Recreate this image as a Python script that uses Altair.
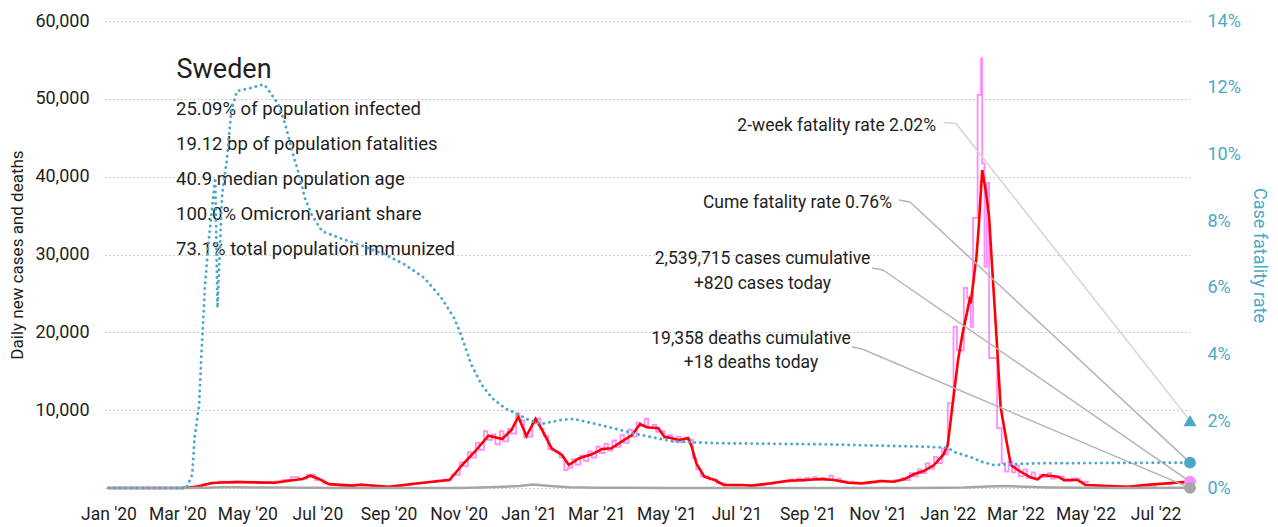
import altair as alt
import pandas as pd

# ---------------- data ----------------
red_dates = ["2020-01-01", "2020-03-05", "2020-03-18", "2020-03-31", "2020-04-20", "2020-05-25",
             "2020-06-06", "2020-06-18", "2020-06-25", "2020-07-02", "2020-07-11", "2020-07-31",
             "2020-08-09", "2020-09-01", "2020-09-27", "2020-10-15", "2020-10-24", "2020-11-04",
             "2020-11-15", "2020-11-27", "2020-12-09", "2020-12-17", "2020-12-23", "2020-12-30",
             "2021-01-07", "2021-01-12", "2021-01-21", "2021-01-30", "2021-02-05", "2021-02-14",
             "2021-02-25", "2021-03-06", "2021-03-14", "2021-03-23", "2021-04-01", "2021-04-08",
             "2021-04-14", "2021-04-24", "2021-04-29", "2021-05-12", "2021-05-20", "2021-05-23",
             "2021-05-27", "2021-06-03", "2021-06-12", "2021-06-20", "2021-07-05", "2021-07-14",
             "2021-07-31", "2021-08-15", "2021-08-29", "2021-09-13", "2021-09-24", "2021-10-06",
             "2021-10-18", "2021-11-04", "2021-11-15", "2021-11-24", "2021-12-03", "2021-12-11",
             "2021-12-20", "2021-12-28", "2022-01-01", "2022-01-05", "2022-01-10", "2022-01-14",
             "2022-01-20", "2022-01-21", "2022-01-26", "2022-01-28", "2022-01-31", "2022-02-03",
             "2022-02-06", "2022-02-09", "2022-02-13", "2022-02-16", "2022-02-21", "2022-02-25",
             "2022-03-03", "2022-03-14", "2022-03-20", "2022-03-25", "2022-04-07", "2022-04-12",
             "2022-04-24", "2022-05-01", "2022-06-07", "2022-06-21", "2022-07-31"]
red_cases = [0, 0, 150, 640, 770, 680,
             940, 1150, 1580, 1200, 500, 300,
             420, 170, 600, 900, 1030, 2950,
             4660, 6720, 6300, 7450, 9160, 6680,
             8870, 7670, 5100, 4240, 2950, 3820,
             4330, 5010, 5100, 5950, 6810, 8220,
             7800, 7670, 6600, 6170, 6390, 5300,
             3170, 1450, 1030, 390, 390, 300,
             600, 940, 1030, 1160, 1030, 680,
             600, 900, 810, 1120, 1800, 2180,
             2950, 4240, 5530, 10450, 16450, 19900,
             24160, 23730, 29720, 33580, 40860, 38290,
             34860, 27590, 18160, 10450, 6170, 2950,
             2310, 1370, 1120, 1670, 1450, 1030,
             1030, 390, 170, 390, 820]

pink_dates = ["2020-01-01", "2020-03-02", "2020-03-09", "2020-03-16", "2020-03-23", "2020-03-30",
              "2020-04-06", "2020-04-13", "2020-04-20", "2020-04-27", "2020-05-04", "2020-05-11",
              "2020-05-18", "2020-05-25", "2020-06-01", "2020-06-08", "2020-06-15", "2020-06-22",
              "2020-06-29", "2020-07-06", "2020-07-13", "2020-07-20", "2020-07-27", "2020-08-03",
              "2020-08-10", "2020-08-17", "2020-08-24", "2020-08-31", "2020-09-07", "2020-09-14",
              "2020-09-21", "2020-09-28", "2020-10-05", "2020-10-12", "2020-10-19", "2020-10-26",
              "2020-11-02", "2020-11-05", "2020-11-09", "2020-11-12", "2020-11-16", "2020-11-19",
              "2020-11-23", "2020-11-26", "2020-11-30", "2020-12-03", "2020-12-07", "2020-12-10",
              "2020-12-14", "2020-12-17", "2020-12-21", "2020-12-24", "2020-12-28", "2020-12-31",
              "2021-01-04", "2021-01-07", "2021-01-11", "2021-01-14", "2021-01-18", "2021-01-21",
              "2021-01-25", "2021-01-28", "2021-02-01", "2021-02-04", "2021-02-08", "2021-02-11",
              "2021-02-15", "2021-02-18", "2021-02-22", "2021-02-25", "2021-03-01", "2021-03-04",
              "2021-03-08", "2021-03-11", "2021-03-15", "2021-03-18", "2021-03-22", "2021-03-25",
              "2021-03-29", "2021-04-01", "2021-04-05", "2021-04-08", "2021-04-12", "2021-04-15",
              "2021-04-19", "2021-04-22", "2021-04-26", "2021-04-29", "2021-05-03", "2021-05-06",
              "2021-05-10", "2021-05-13", "2021-05-17", "2021-05-20", "2021-05-24", "2021-05-27",
              "2021-05-31", "2021-06-07", "2021-06-14", "2021-06-21", "2021-06-28", "2021-07-05",
              "2021-07-12", "2021-07-19", "2021-07-26", "2021-08-02", "2021-08-09", "2021-08-16",
              "2021-08-19", "2021-08-23", "2021-08-26", "2021-08-30", "2021-09-02", "2021-09-06",
              "2021-09-09", "2021-09-13", "2021-09-16", "2021-09-20", "2021-09-23", "2021-09-27",
              "2021-09-30", "2021-10-04", "2021-10-11", "2021-10-18", "2021-10-25", "2021-11-01",
              "2021-11-08", "2021-11-15", "2021-11-22", "2021-11-25", "2021-11-29", "2021-12-02",
              "2021-12-06", "2021-12-09", "2021-12-13", "2021-12-16", "2021-12-20", "2021-12-23",
              "2021-12-27", "2021-12-30", "2022-01-01", "2022-01-06", "2022-01-09", "2022-01-15",
              "2022-01-18", "2022-01-21", "2022-01-23", "2022-01-27", "2022-01-30", "2022-01-31",
              "2022-02-02", "2022-02-04", "2022-02-06", "2022-02-13", "2022-02-17", "2022-02-20",
              "2022-02-23", "2022-02-26", "2022-03-01", "2022-03-04", "2022-03-08", "2022-03-11",
              "2022-03-15", "2022-03-18", "2022-03-22", "2022-03-25", "2022-03-29", "2022-04-01",
              "2022-04-05", "2022-04-12", "2022-04-19", "2022-04-26", "2022-05-03", "2022-05-10",
              "2022-05-17", "2022-06-01", "2022-06-15", "2022-07-01", "2022-07-15", "2022-07-31"]
pink_cases = [0, 20, 120, 300, 500, 650,
              820, 650, 850, 700, 780, 620,
              750, 850, 1050, 1400, 1200, 1700,
              1000, 600, 380, 280, 350, 450,
              350, 250, 200, 160, 250, 380,
              550, 650, 750, 950, 1100, 1700,
              3300, 2800, 4600, 3900, 5800, 4900,
              7300, 6200, 6900, 5600, 7300, 6000,
              7600, 7000, 9600, 8700, 6500, 6600,
              8300, 8900, 7600, 6700, 5000, 4800,
              4600, 3900, 2300, 2600, 3700, 3000,
              4200, 3500, 4700, 3900, 5300, 4500,
              5700, 4800, 6100, 5300, 6800, 5800,
              7500, 6600, 8400, 8000, 8900, 7700,
              8100, 7200, 7300, 6400, 6800, 6000,
              6600, 5900, 6500, 6200, 3800, 2400,
              1500, 1100, 600, 350, 300, 400,
              280, 350, 500, 700, 800, 1100,
              850, 1200, 900, 1300, 1000, 1400,
              1050, 1300, 1000, 1600, 1000, 1200,
              900, 800, 650, 600, 700, 950,
              850, 1000, 1300, 1000, 1900, 1500,
              2400, 1900, 3200, 2500, 4000, 3200,
              5100, 4300, 10900, 20700, 17700, 25700,
              24400, 20700, 34700, 50500, 55200, 41700,
              28400, 39200, 16700, 7700, 3200, 2100,
              3400, 2000, 2900, 1500, 2400, 1300,
              2000, 1100, 1700, 1400, 1900, 1200,
              1500, 900, 1200, 800, 400, 300,
              250, 200, 250, 500, 650, 820]

death_dates = ["2020-01-01", "2020-03-10", "2020-03-25", "2020-04-08", "2020-04-22", "2020-05-06",
               "2020-05-20", "2020-06-03", "2020-06-17", "2020-07-01", "2020-07-15", "2020-08-01",
               "2020-10-01", "2020-11-01", "2020-11-20", "2020-12-10", "2020-12-24", "2021-01-05",
               "2021-01-12", "2021-01-20", "2021-02-05", "2021-03-01", "2021-04-01", "2021-05-01",
               "2021-06-01", "2021-12-01", "2022-01-15", "2022-02-05", "2022-02-20", "2022-03-10",
               "2022-04-01", "2022-05-01", "2022-06-01", "2022-07-31"]
deaths = [0, 0, 40, 100, 90, 80,
          60, 50, 40, 20, 10, 5,
          3, 10, 60, 150, 250, 450,
          350, 250, 100, 30, 20, 15,
          5, 5, 50, 200, 250, 150,
          80, 30, 15, 18]

cfr_dates = ["2020-01-01", "2020-03-09", "2020-03-14", "2020-03-16", "2020-03-20", "2020-03-22",
             "2020-03-25", "2020-03-28", "2020-03-31", "2020-04-03", "2020-04-05", "2020-04-09",
             "2020-04-13", "2020-04-17", "2020-04-22", "2020-05-05", "2020-05-15", "2020-05-18",
             "2020-05-28", "2020-06-03", "2020-06-09", "2020-06-15", "2020-06-20", "2020-06-26",
             "2020-07-05", "2020-07-20", "2020-08-06", "2020-08-29", "2020-09-15", "2020-10-02",
             "2020-10-17", "2020-10-28", "2020-11-03", "2020-11-12", "2020-11-21", "2020-11-30",
             "2020-12-11", "2020-12-23", "2021-01-01", "2021-01-12", "2021-01-29", "2021-02-09",
             "2021-02-26", "2021-03-16", "2021-04-02", "2021-04-20", "2021-05-08", "2021-06-18",
             "2021-09-13", "2021-12-09", "2022-01-01", "2022-01-06", "2022-01-15", "2022-01-24",
             "2022-01-30", "2022-02-10", "2022-02-28", "2022-03-25", "2022-07-31"]
cfr_pct = [0, 0, 0.4, 1.5, 2.5, 4.0,
           6.0, 7.3, 8.3, 9.3, 5.4, 8.8,
           9.8, 11.3, 11.9, 12.0, 12.1, 12.0,
           11.5, 10.9, 10.1, 9.4, 8.7, 8.2,
           7.7, 7.5, 7.3, 7.0, 6.7, 6.3,
           5.7, 5.1, 4.6, 3.7, 3.1, 2.7,
           2.4, 2.2, 2.04, 1.92, 2.04, 2.07,
           1.94, 1.79, 1.64, 1.51, 1.39, 1.34,
           1.31, 1.24, 1.21, 1.09, 0.99, 0.89,
           0.79, 0.69, 0.72, 0.74, 0.76]

country = "Sweden"
stat_lines = ["25.09% of population infected",
              "19.12 bp of population fatalities",
              "40.9 median population age",
              "100.0% Omicron variant share",
              "73.1% total population immunized"]

last_date = "2022-07-31"
cases_cumulative = 2539715
cases_today = 820
deaths_cumulative = 19358
deaths_today = 18
cume_fatality = 0.76
two_week_fatality = 2.02

tick_months = [(2020, 1), (2020, 3), (2020, 5), (2020, 7), (2020, 9), (2020, 11),
               (2021, 1), (2021, 3), (2021, 5), (2021, 7), (2021, 9), (2021, 11),
               (2022, 1), (2022, 3), (2022, 5), (2022, 7)]
case_ticks = [0, 10000, 20000, 30000, 40000, 50000, 60000]
pct_ticks = [0, 2, 4, 6, 8, 10, 12, 14]

# ---------------- styling ----------------
FONT = "Roboto"
TEAL = "#4aa9c6"
PINK = "#ff8cff"
RED = "#ff0000"
GRAY = "#a6a6a6"
INK = "#1e1e1e"
W, H = 1085, 467


def utc_ms(y, m, d=1):
    return int(pd.Timestamp(year=y, month=m, day=d, tz="UTC").value // 1_000_000)


cases_df = pd.DataFrame({"date": red_dates, "value": red_cases})
daily_df = pd.DataFrame({"date": pink_dates, "value": pink_cases})
deaths_df = pd.DataFrame({"date": death_dates, "value": deaths})
cfr_df = pd.DataFrame({"date": cfr_dates, "pct": cfr_pct})

x_enc = alt.X(
    "date:T",
    scale=alt.Scale(type="utc", domain=[utc_ms(2019, 12, 29), utc_ms(2022, 7, 31)]),
    axis=alt.Axis(values=[utc_ms(y, m) for y, m in tick_months],
                  labelExpr="utcFormat(datum.value, \"%b '%y\")",
                  labelFontSize=17.5, labelPadding=17, labelColor=INK, labelFont=FONT,
                  ticks=False, tickSize=0, domain=False, grid=False, title=None),
)

y_left = alt.Y(
    "value:Q",
    scale=alt.Scale(domain=[0, 60000]),
    axis=alt.Axis(values=case_ticks,
                  labelExpr="datum.value == 0 ? '' : format(datum.value, ',')",
                  grid=True, gridDash=[1.5, 2.5], gridColor="#bdbdbd", gridWidth=1,
                  ticks=False, tickSize=0, domain=False, labelPadding=16, labelFontSize=18,
                  labelColor=INK, labelFont=FONT, title="Daily new cases and deaths",
                  titleFont=FONT, titleFontSize=17, titleFontWeight="normal", titleColor=INK,
                  titleAngle=270, titleAlign="center", titleBaseline="middle",
                  titleX=-87.5, titleY=233.5),
)

y_right = alt.Y(
    "pct:Q",
    scale=alt.Scale(domain=[0, 14]),
    axis=alt.Axis(orient="right", values=pct_ticks, labelExpr="datum.value + '%'",
                  grid=False, ticks=False, tickSize=0, domain=False, labelPadding=17,
                  labelFontSize=18, labelColor=TEAL, labelFont=FONT,
                  title="Case fatality rate", titleFont=FONT, titleFontSize=18,
                  titleFontWeight="normal", titleColor=TEAL,
                  titleAngle=90, titleAlign="center", titleBaseline="middle",
                  titleX=68, titleY=234),
)

# ---- left-axis layers: cases and deaths ----
daily_line = alt.Chart(daily_df).mark_line(color=PINK, strokeWidth=1.8,
                                           interpolate="step-after").encode(x=x_enc, y=y_left)
avg_line = alt.Chart(cases_df).mark_line(color=RED, strokeWidth=2.6).encode(x=x_enc, y=y_left)
death_line = alt.Chart(deaths_df).mark_line(color=GRAY, strokeWidth=2.5).encode(x=x_enc, y=y_left)

end_left = pd.DataFrame({"date": [last_date, last_date],
                         "value": [cases_today, deaths_today],
                         "kind": ["cases", "deaths"]})
end_cases = end_left[end_left.kind == "cases"]
end_deaths = end_left[end_left.kind == "deaths"]

LEAD = "#b4b4b4"
leader_cases = alt.Chart(end_cases).mark_rule(color=LEAD, strokeWidth=1.5).encode(
    x=x_enc, y=y_left, x2=alt.value(778), y2=alt.value(249))
leader_cases_tab = alt.Chart(end_cases).mark_rule(color=LEAD, strokeWidth=1.5).encode(
    x=alt.value(767), x2=alt.value(778), y=alt.value(247), y2=alt.value(249))
leader_deaths = alt.Chart(end_deaths).mark_rule(color=LEAD, strokeWidth=1.5).encode(
    x=x_enc, y=y_left, x2=alt.value(757), y2=alt.value(328))
leader_deaths_tab = alt.Chart(end_deaths).mark_rule(color=LEAD, strokeWidth=1.5).encode(
    x=alt.value(747), x2=alt.value(757), y=alt.value(326), y2=alt.value(328))

pink_dot = alt.Chart(end_cases).mark_point(
    shape="circle", filled=True, opacity=1, size=140, color=PINK).encode(x=x_enc, y=y_left)
gray_dot = alt.Chart(end_deaths).mark_point(
    shape="circle", filled=True, opacity=1, size=140, color=GRAY).encode(x=x_enc, y=y_left)


# ---- text ----
def label(text, x, y, size=17.5, align="left", line_height=None):
    kw = dict(font=FONT, fontSize=size, align=align, baseline="alphabetic", color=INK)
    if line_height:
        kw.update(lineBreak="\n", lineHeight=line_height)
    return alt.Chart(pd.DataFrame({"t": [text]})).mark_text(**kw).encode(
        x=alt.value(x), y=alt.value(y), text="t:N")


title_txt = label(country, 71.5, 57, size=27)
stats_txt = label("\n".join(stat_lines), 71, 94, size=18.5, line_height=35)
two_week_txt = label(f"2-week fatality rate {two_week_fatality:.2f}%", 831, 110, align="right")
cume_txt = label(f"Cume fatality rate {cume_fatality:.2f}%", 787, 187, align="right")
cases_txt = label(f"{cases_cumulative:,} cases cumulative\n+{cases_today:,} cases today",
                  657.5, 243, align="center", line_height=25)
deaths_txt = label(f"{deaths_cumulative:,} deaths cumulative\n+{deaths_today:,} deaths today",
                   646, 323, align="center", line_height=23.5)

left = alt.layer(daily_line, avg_line, death_line,
                 leader_cases_tab, leader_cases, leader_deaths_tab, leader_deaths,
                 title_txt, stats_txt, two_week_txt, cume_txt, cases_txt, deaths_txt,
                 pink_dot, gray_dot)

# ---- right-axis layers: fatality rate ----
end_right = pd.DataFrame({"date": [last_date, last_date],
                          "pct": [two_week_fatality, cume_fatality],
                          "kind": ["two_week", "cume"]})
end_2wk = end_right[end_right.kind == "two_week"]
end_cume = end_right[end_right.kind == "cume"]

leader_2wk = alt.Chart(end_2wk).mark_rule(color="#d4d4d4", strokeWidth=1.5).encode(
    x=x_enc, y=y_right, x2=alt.value(851), y2=alt.value(102.5))
leader_2wk_tab = alt.Chart(end_2wk).mark_rule(color="#d4d4d4", strokeWidth=1.5).encode(
    x=alt.value(839), x2=alt.value(851), y=alt.value(101.5), y2=alt.value(102.5))
leader_cume = alt.Chart(end_cume).mark_rule(color=LEAD, strokeWidth=1.5).encode(
    x=x_enc, y=y_right, x2=alt.value(805), y2=alt.value(181))
leader_cume_tab = alt.Chart(end_cume).mark_rule(color=LEAD, strokeWidth=1.5).encode(
    x=alt.value(794), x2=alt.value(805), y=alt.value(179), y2=alt.value(181))

cfr_line = alt.Chart(cfr_df).mark_line(color=TEAL, strokeWidth=2.9, strokeDash=[0.1, 5.6],
                                       strokeCap="round").encode(x=x_enc, y=y_right)
tri = alt.Chart(end_2wk).mark_point(
    shape="triangle-up", filled=True, opacity=1, size=170, color=TEAL).encode(x=x_enc, y=y_right)
cume_dot = alt.Chart(end_cume).mark_point(
    shape="circle", filled=True, opacity=1, size=140, color=TEAL).encode(x=x_enc, y=y_right)

right = alt.layer(leader_2wk_tab, leader_2wk, leader_cume_tab, leader_cume, cfr_line, tri, cume_dot)

chart = (
    alt.layer(left, right)
    .resolve_scale(y="independent")
    .properties(width=W, height=H,
                autosize=alt.AutoSizeParams(type="none"),
                padding={"left": 105, "top": 21, "right": 88, "bottom": 39},
                background="white")
    .configure_view(stroke=None)
)

chart.save("out.html", embed_options={"renderer": "svg", "actions": False})
